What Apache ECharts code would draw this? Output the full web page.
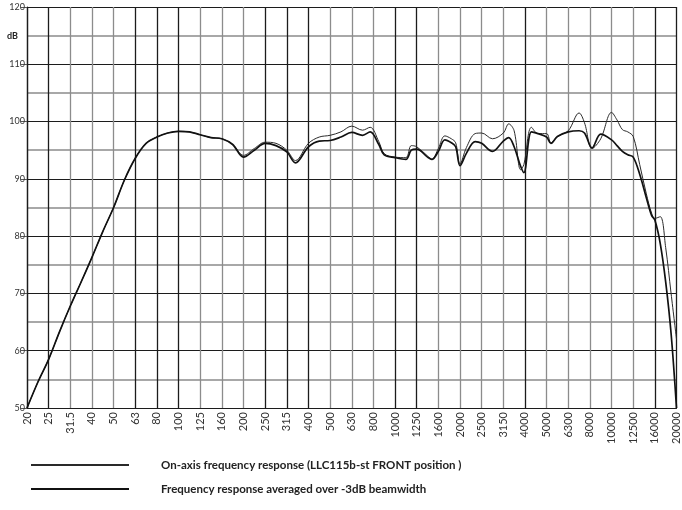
<!DOCTYPE html>
<html>
<head>
<meta charset="utf-8">
<script src="https://cdn.jsdelivr.net/npm/echarts@6/dist/echarts.min.js"></script>
<style>
  html, body { margin: 0; padding: 0; background: #fff; }
  #chart { width: 682px; height: 510px; }
</style>
</head>
<body>
<div id="chart"></div>
<script>
// 1/3 octave frequency labels (x axis)
const freqLabels = ['20', '25', '31.5', '40', '50', '63', '80', '100', '125', '160', '200', '250', '315', '400', '500', '630', '800', '1000', '1250', '1600', '2000', '2500', '3150', '4000', '5000', '6300', '8000', '10000', '12500', '16000', '20000']

// read positions, in 1/3 octave steps from 20 Hz
const steps = [0, 0.5, 1, 1.5, 2, 2.5, 3, 3.5, 4, 4.5, 5, 5.5, 6, 6.5, 7, 7.5, 8, 8.5, 9, 9.5,
  10, 10.5, 11, 11.5, 12, 12.4, 13, 13.5, 14, 14.5, 15, 15.5, 15.85, 16.25, 16.5, 17, 17.5, 17.75,
  18, 18.5, 18.7, 19, 19.3, 19.6, 19.8, 20, 20.3, 20.7, 21, 21.5, 22, 22.25, 22.5, 22.8, 22.95,
  23.3, 23.6, 24, 24.2, 24.5, 25, 25.5, 25.75, 26.1, 26.5, 27, 27.25, 27.5, 27.75, 28, 28.3,
  28.6, 28.85, 29, 29.25, 29.5, 29.75, 30]

// on-axis response (dB)
const onAxis = [50, 54.5, 58.5, 63.3, 67.8, 72, 76.3, 80.8, 85, 89.8, 93.6, 96.2, 97.3, 98, 98.3, 98.2, 97.7, 97.2, 97, 96,
  94.1, 95.3, 96.4, 96.2, 95, 93.2, 96.2, 97.3, 97.6, 98.2, 99.2, 98.5, 99, 96.5, 94.4, 93.8, 93.7, 95.8,
  95.6, 94, 93.4, 95.3, 97.5, 97, 96.3, 92.6, 95.5, 97.9, 98, 97, 98, 99.6, 98.4, 91.6, 92.5,
  99, 97.9, 97.9, 96.3, 97.4, 98.4, 101.5, 99.8, 95.3, 97, 101.6, 100.3, 98.6, 98.2, 97.4, 92.5,
  87.5, 84, 83.1, 83.4, 78, 70, 62]

// averaged over -3dB beamwidth (dB)
const averaged = [50, 54.5, 58.5, 63.3, 67.8, 72, 76.3, 80.8, 85, 89.8, 93.6, 96.2, 97.3, 98, 98.3, 98.2, 97.7, 97.2, 97, 96,
  93.8, 95, 96.2, 95.8, 94.7, 92.8, 95.6, 96.6, 96.7, 97.3, 98.1, 97.6, 98.2, 96, 94.2, 93.7, 93.4, 95,
  95.2, 93.8, 93.4, 94.8, 96.8, 96.3, 95.6, 92.3, 94.5, 96.5, 96.2, 94.8, 96.6, 97.2, 95.6, 92.2, 91.1,
  98.2, 97.9, 97.3, 96.2, 97.4, 98.2, 98.4, 98, 95.4, 97.8, 96.8, 95.8, 94.8, 94.2, 93.8, 90.8,
  86.8, 83.6, 82.8, 78.7, 72, 63, 50]

const seriesNames = [
  'On-axis frequency response (LLC115b-st FRONT position )',
  'Frequency response averaged over -3dB beamwidth'
]

const BLACK = '#1c1c1c'
const GRAY = '#8c8c8c'
// vertical grid colours as printed (groups of dark / light lines)
const vColors = [BLACK, BLACK, GRAY, GRAY, GRAY, BLACK, BLACK, BLACK, GRAY, GRAY, GRAY, BLACK, BLACK, BLACK,
  GRAY, GRAY, GRAY, BLACK, BLACK, GRAY, GRAY, GRAY, GRAY, BLACK, GRAY, GRAY, GRAY, GRAY, GRAY, BLACK, BLACK]

const chart = echarts.init(document.getElementById('chart'))

const option = {
  backgroundColor: '#fff',
  animation: false,
  textStyle: { fontFamily: 'Lato' },
  grid: { left: 27, right: 1, top: 7, bottom: 102 },
  legend: {
    orient: 'vertical',
    left: 25,
    top: 454,
    itemWidth: 98,
    itemHeight: 14,
    itemGap: 12,
    data: seriesNames,
    itemStyle: { opacity: 0 },
    textStyle: {
      fontFamily: 'Lato',
      fontWeight: 'bold',
      fontSize: 11.5,
      color: '#222',
      padding: [0, 0, 0, 27]
    }
  },
  graphic: [{
    type: 'text',
    left: 7,
    top: 32,
    style: { text: 'dB', font: 'bold 9px Lato', fill: '#222' }
  }],
  xAxis: {
    type: 'value',
    min: 0,
    max: 30,
    interval: 1,
    axisLine: { lineStyle: { color: BLACK, width: 1.2 } },
    axisTick: { show: false },
    axisLabel: {
      rotate: 90,
      fontSize: 11,
      color: '#333',
      margin: 4,
      showMaxLabel: true,
      formatter: v => freqLabels[v] ?? ''
    },
    splitLine: { show: true, lineStyle: { color: vColors, width: 1.3 } }
  },
  yAxis: {
    type: 'value',
    min: 50,
    max: 120,
    interval: 10,
    axisLine: { show: true, lineStyle: { color: BLACK, width: 1.2 } },
    axisTick: { show: true, length: 6, lineStyle: { color: '#555' } },
    axisLabel: { fontSize: 9, color: '#333', margin: 2 },
    splitLine: { show: true, lineStyle: { color: BLACK, width: 1.2 } },
    minorTick: { show: false, splitNumber: 2 },
    minorSplitLine: { show: true, lineStyle: { color: GRAY, width: 1.5 } }
  },
  series: [
    {
      name: seriesNames[0],
      type: 'line',
      smooth: 0.35,
      symbol: 'none',
      itemStyle: { color: '#2a2a2a' },
      lineStyle: { color: '#2a2a2a', width: 1 },
      data: steps.map((s, k) => [s, onAxis[k]]),
      z: 3
    },
    {
      name: seriesNames[1],
      type: 'line',
      smooth: 0.35,
      symbol: 'none',
      itemStyle: { color: '#111' },
      lineStyle: { color: '#111', width: 1.7 },
      data: steps.map((s, k) => [s, averaged[k]]),
      z: 4
    }
  ]
}

chart.setOption(option)
</script>
</body>
</html>
